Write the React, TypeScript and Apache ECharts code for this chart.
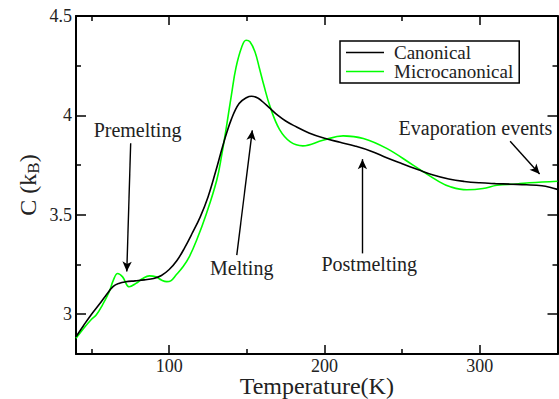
import React, { useEffect, useRef } from "react";
import * as echarts from "echarts";

// Canonical heat capacity C(T)
const canonicalT = [40, 45, 50, 55, 59, 64, 68, 72, 78, 84, 90, 95, 100, 105, 110, 115, 120, 125, 130, 135, 140, 145, 150, 153, 157, 160, 165, 170, 175, 180, 190, 200, 210, 220, 230, 240, 250, 260, 270, 280, 290, 300, 310, 320, 330, 340, 345, 350];
const canonicalC = [2.887, 2.945, 3.0, 3.05, 3.092, 3.14, 3.156, 3.163, 3.168, 3.173, 3.18, 3.195, 3.225, 3.27, 3.335, 3.41, 3.49, 3.59, 3.72, 3.86, 3.98, 4.06, 4.09, 4.096, 4.088, 4.07, 4.035, 4.0, 3.972, 3.95, 3.912, 3.885, 3.865, 3.845, 3.82, 3.787, 3.757, 3.728, 3.70, 3.68, 3.668, 3.661, 3.657, 3.654, 3.651, 3.646, 3.639, 3.628];

// Microcanonical heat capacity C(T)
const microT = [40, 45, 50, 53, 57, 61.4, 64, 66.8, 70, 74.3, 78.6, 83, 87.2, 91.5, 95, 98.4, 101, 104.4, 109, 113, 117.7, 124, 130.6, 133.8, 137, 140, 143, 146.7, 149.5, 152, 155.2, 158, 161, 165, 171, 178, 186, 199, 212, 225, 240, 257, 274, 281, 291.5, 302, 311, 324, 332, 350];
const microC = [2.879, 2.93, 2.975, 2.996, 3.046, 3.113, 3.17, 3.205, 3.188, 3.138, 3.155, 3.18, 3.193, 3.188, 3.172, 3.164, 3.168, 3.197, 3.24, 3.29, 3.373, 3.507, 3.674, 3.80, 3.95, 4.10, 4.24, 4.344, 4.378, 4.37, 4.32, 4.24, 4.15, 4.043, 3.93, 3.867, 3.847, 3.875, 3.897, 3.884, 3.834, 3.75, 3.666, 3.641, 3.626, 3.632, 3.649, 3.655, 3.661, 3.669];

// Axis ticks
const xMajorTicks = [100, 200, 300];
const xMinorTicks = [50, 150, 250];
const yMajorTicks = [3, 3.5, 4, 4.5];
const yMinorTicks = [3.25, 3.75, 4.25];

// Annotations: [label, textX, textY]
const annotationTexts: [string, number, number][] = [
  ["Premelting", 79.6, 3.926],
  ["Melting", 146.7, 3.232],
  ["Postmelting", 228.8, 3.252],
  ["Evaporation events", 297.2, 3.936],
];
// Arrows: [fromX, fromY, toX, toY]
const annotationArrows: [number, number, number, number][] = [
  [75.2, 3.86, 72.7, 3.215],
  [143.5, 3.297, 153.5, 3.925],
  [224.4, 3.306, 224.4, 3.78],
  [319.5, 3.87, 338.5, 3.705],
];

const FONT = "'Liberation Serif', 'Times New Roman', serif";

export default function App() {
  const ref = useRef<HTMLDivElement>(null);
  useEffect(() => {
    if (!ref.current) return;
    const chart = echarts.init(ref.current, undefined, { renderer: "svg" });
    const axisLine = { show: true, lineStyle: { color: "#000", width: 2 } };
    const labelStyle = { fontFamily: FONT, fontSize: 18, color: "#222" };
    const xBase = { type: "value" as const, min: 40, max: 350, splitLine: { show: false } };
    const yBase = { type: "value" as const, min: 2.8, max: 4.5, splitLine: { show: false } };
    chart.setOption({
      animation: false,
      grid: { left: 76, top: 16, right: 1.5, bottom: 45, containLabel: false, outerBoundsMode: "none" },
      legend: {
        data: ["Canonical", "Microcanonical"],
        orient: "vertical",
        left: 340,
        top: 41,
        icon: "rect",
        itemWidth: 38,
        itemHeight: 1.6,
        itemGap: 0,
        padding: [2, 6, 2, 6],
        borderColor: "#000",
        borderWidth: 1.5,
        borderRadius: 0,
        textStyle: { fontFamily: FONT, fontSize: 19, color: "#222", lineHeight: 18.5, padding: [0, 0, 0, 5] },
      },
      xAxis: [
        {
          ...xBase,
          position: "bottom",
          axisLine,
          axisTick: { show: true, inside: true, length: 9, customValues: xMajorTicks, lineStyle: { color: "#000", width: 1.5 } },
          axisLabel: { ...labelStyle, lineHeight: 16, margin: 4, customValues: xMajorTicks },
          name: "Temperature(K)",
          nameLocation: "middle",
          nameGap: 22,
          nameMoveOverlap: false,
          nameTextStyle: { fontFamily: FONT, fontSize: 24, lineHeight: 20, color: "#222", verticalAlign: "top" },
        },
        {
          ...xBase,
          position: "bottom",
          axisLine: { show: false },
          axisTick: { show: true, inside: true, length: 5, customValues: xMinorTicks, lineStyle: { color: "#000", width: 1.5 } },
          axisLabel: { show: false, customValues: xMinorTicks },
        },
        {
          ...xBase,
          position: "top",
          axisLine,
          axisTick: { show: true, inside: true, length: 9, customValues: xMajorTicks, lineStyle: { color: "#000", width: 1.5 } },
          axisLabel: { show: false, customValues: xMajorTicks },
        },
        {
          ...xBase,
          position: "top",
          axisLine: { show: false },
          axisTick: { show: true, inside: true, length: 5, customValues: xMinorTicks, lineStyle: { color: "#000", width: 1.5 } },
          axisLabel: { show: false, customValues: xMinorTicks },
        },
      ],
      yAxis: [
        {
          ...yBase,
          position: "left",
          axisLine,
          axisTick: { show: true, inside: true, length: 10, customValues: yMajorTicks, lineStyle: { color: "#000", width: 1.5 } },
          axisLabel: { ...labelStyle, margin: 4, customValues: yMajorTicks },
          name: "C (k{sub|B})",
          nameLocation: "middle",
          nameGap: 34,
          nameMoveOverlap: false,
          nameTextStyle: {
            fontFamily: FONT,
            fontSize: 24,
            color: "#222",
            rich: { sub: { fontFamily: FONT, fontSize: 17, color: "#222", padding: [12, 0, 0, 0] } },
          },
        },
        {
          ...yBase,
          position: "left",
          axisLine: { show: false },
          axisTick: { show: true, inside: true, length: 5, customValues: yMinorTicks, lineStyle: { color: "#000", width: 1.5 } },
          axisLabel: { show: false, customValues: yMinorTicks },
        },
        {
          ...yBase,
          position: "right",
          axisLine,
          axisTick: { show: true, inside: true, length: 10, customValues: yMajorTicks, lineStyle: { color: "#000", width: 1.5 } },
          axisLabel: { show: false, customValues: yMajorTicks },
        },
        {
          ...yBase,
          position: "right",
          axisLine: { show: false },
          axisTick: { show: true, inside: true, length: 5, customValues: yMinorTicks, lineStyle: { color: "#000", width: 1.5 } },
          axisLabel: { show: false, customValues: yMinorTicks },
        },
      ],
      series: [
        {
          name: "Canonical",
          type: "line",
          xAxisIndex: 0,
          yAxisIndex: 0,
          data: canonicalT.map((t, i) => [t, canonicalC[i]]),
          smooth: 0.4,
          symbol: "none",
          lineStyle: { color: "#000", width: 1.6 },
          itemStyle: { color: "#000" },
          z: 3,
          markLine: {
            silent: true,
            symbol: ["none", "arrow"],
            symbolSize: [7, 10],
            label: { show: false },
            lineStyle: { color: "#000", width: 1.4, type: "solid" },
            emphasis: { disabled: true },
            data: annotationArrows.map(([x1, y1, x2, y2]) => [{ coord: [x1, y1] }, { coord: [x2, y2] }]),
          },
          markPoint: {
            silent: true,
            symbol: "circle",
            symbolSize: 1,
            itemStyle: { color: "rgba(0,0,0,0)" },
            label: { show: true, position: "inside", formatter: "{b}", fontFamily: FONT, fontSize: 20, color: "#222" },
            data: annotationTexts.map(([name, x, y]) => ({ name, coord: [x, y] })),
          },
        },
        {
          name: "Microcanonical",
          type: "line",
          xAxisIndex: 0,
          yAxisIndex: 0,
          data: microT.map((t, i) => [t, microC[i]]),
          smooth: 0.4,
          symbol: "none",
          lineStyle: { color: "#00ff00", width: 1.6 },
          itemStyle: { color: "#00ff00" },
          z: 2,
        },
      ],
    });
    return () => chart.dispose();
  }, []);
  return (
    <div style={{ position: "fixed", left: 0, top: 0, width: 559, height: 399, background: "#fff" }}>
      <div ref={ref} style={{ width: 559, height: 399 }} />
    </div>
  );
}
